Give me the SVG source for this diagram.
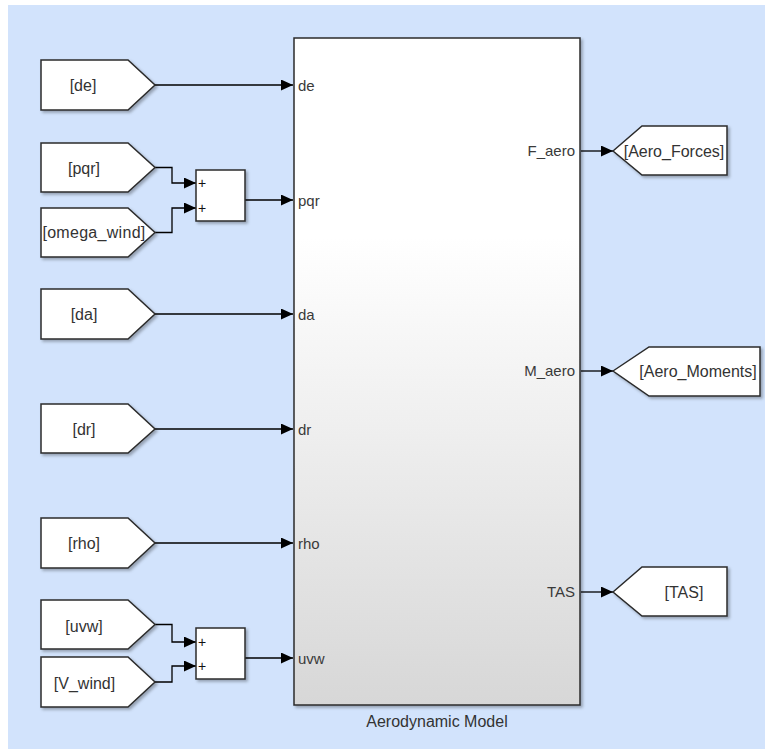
<svg xmlns="http://www.w3.org/2000/svg" width="765" height="749" viewBox="0 0 765 749">
  <style>
    .blk { fill: #ffffff; stroke: #2b2b2b; stroke-width: 1.5; filter: url(#sh); }
    .lbl { font-family: "Liberation Sans", Arial, sans-serif; font-size: 16px; fill: #333333; text-anchor: middle; }
    .port { font-family: "Liberation Sans", Arial, sans-serif; font-size: 15px; fill: #3a3a3a; }
    .pl { font-family: "Liberation Sans", Arial, sans-serif; font-size: 14px; fill: #111111; }
    .wire { fill: none; stroke: #000000; stroke-width: 1.3; marker-end: url(#arr); }
  </style>
  <defs>
    <filter id="sh" x="-10%" y="-10%" width="130%" height="130%">
      <feDropShadow dx="2" dy="2" stdDeviation="1.5" flood-color="#000000" flood-opacity="0.3"/>
    </filter>
    <linearGradient id="mg" x1="0" y1="0" x2="0" y2="1">
      <stop offset="0" stop-color="#ffffff"/>
      <stop offset="0.3" stop-color="#ffffff"/>
      <stop offset="1" stop-color="#d7d7d7"/>
    </linearGradient>
    <marker id="arr" markerUnits="userSpaceOnUse" markerWidth="12" markerHeight="11" refX="12" refY="5.5" orient="auto">
      <path d="M0,0 L12,5.5 L0,11 Z" fill="#000000"/>
    </marker>
  </defs>

  <rect x="0" y="0" width="765" height="749" fill="#ffffff"/>
  <rect x="8" y="5" width="757" height="744" fill="#d2e3fc"/>

  <g id="connectors">
    <path class="wire" d="M155,85 H293"/>
    <path class="wire" d="M155,167.5 H172 V183 H196"/>
    <path class="wire" d="M155,232.5 H172 V208 H196"/>
    <path class="wire" d="M245,200 H293"/>
    <path class="wire" d="M155,314 H293"/>
    <path class="wire" d="M155,429 H293"/>
    <path class="wire" d="M155,543 H293"/>
    <path class="wire" d="M155,624.5 H172 V642 H196"/>
    <path class="wire" d="M155,682 H172 V666 H196"/>
    <path class="wire" d="M245,658 H293"/>
    <path class="wire" d="M581,151 H613"/>
    <path class="wire" d="M581,371 H613"/>
    <path class="wire" d="M581,592 H613"/>
  </g>

  <g id="aero_model">
    <rect x="294" y="38" width="286" height="667" fill="url(#mg)" stroke="#2b2b2b" stroke-width="1.5" filter="url(#sh)"/>
    <text class="port" x="298" y="91">de</text>
    <text class="port" x="298" y="206">pqr</text>
    <text class="port" x="298" y="320">da</text>
    <text class="port" x="298" y="435">dr</text>
    <text class="port" x="298" y="549">rho</text>
    <text class="port" x="298" y="664">uvw</text>
    <text class="port" x="575" y="156" text-anchor="end">F_aero</text>
    <text class="port" x="575" y="376" text-anchor="end">M_aero</text>
    <text class="port" x="575" y="597" text-anchor="end">TAS</text>
    <text class="lbl" x="437" y="727">Aerodynamic Model</text>
  </g>

  <g id="from_de">
    <path class="blk" d="M41,60 H128 L155,85 L128,110 H41 Z"/>
    <text class="lbl" x="83" y="91">[de]</text>
  </g>
  <g id="from_pqr">
    <path class="blk" d="M41,143 H128 L155,167.5 L128,192 H41 Z"/>
    <text class="lbl" x="84" y="174">[pqr]</text>
  </g>
  <g id="from_omega_wind">
    <path class="blk" d="M41,208 H128 L155,232.5 L128,257 H41 Z"/>
    <text class="lbl" x="94" y="238" letter-spacing="0.3">[omega_wind]</text>
  </g>
  <g id="from_da">
    <path class="blk" d="M41,289 H128 L155,314 L128,339 H41 Z"/>
    <text class="lbl" x="84" y="320">[da]</text>
  </g>
  <g id="from_dr">
    <path class="blk" d="M41,404 H128 L155,429 L128,453 H41 Z"/>
    <text class="lbl" x="84" y="435">[dr]</text>
  </g>
  <g id="from_rho">
    <path class="blk" d="M41,518 H128 L155,543 L128,568 H41 Z"/>
    <text class="lbl" x="84" y="549">[rho]</text>
  </g>
  <g id="from_uvw">
    <path class="blk" d="M41,600 H128 L155,624.5 L128,649 H41 Z"/>
    <text class="lbl" x="84" y="632">[uvw]</text>
  </g>
  <g id="from_V_wind">
    <path class="blk" d="M41,657 H128 L155,682 L128,707 H41 Z"/>
    <text class="lbl" x="84.5" y="689">[V_wind]</text>
  </g>

  <g id="sum1">
    <rect class="blk" x="196" y="170" width="49" height="51"/>
    <text class="pl" x="198" y="188">+</text>
    <text class="pl" x="198" y="213">+</text>
  </g>
  <g id="sum2">
    <rect class="blk" x="196" y="628" width="49" height="51"/>
    <text class="pl" x="198" y="647">+</text>
    <text class="pl" x="198" y="671">+</text>
  </g>

  <g id="goto_aero_forces">
    <path class="blk" d="M613,151 L642,126 H727 V175 H642 Z"/>
    <text class="lbl" x="674" y="157">[Aero_Forces]</text>
  </g>
  <g id="goto_aero_moments">
    <path class="blk" d="M613,371 L649,347 H760 V396 H649 Z"/>
    <text class="lbl" x="698" y="377">[Aero_Moments]</text>
  </g>
  <g id="goto_tas">
    <path class="blk" d="M613,592 L642,567 H727 V616 H642 Z"/>
    <text class="lbl" x="684" y="598">[TAS]</text>
  </g>
</svg>
